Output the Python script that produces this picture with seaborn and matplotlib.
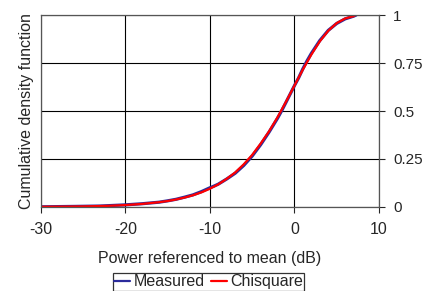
import numpy as np
import pandas as pd
import matplotlib
matplotlib.use("Agg")
import matplotlib.pyplot as plt
from matplotlib.lines import Line2D
import seaborn as sns

# values
chi_x = [-30, -27, -25, -22, -20, -18, -16, -15, -14, -13, -12, -11, -10, -9, -8, -7, -6,
         -5, -4, -3, -2, -1, 0, 1, 2, 3, 4, 5, 6, 7, 7.2]
chi_y = [0.001, 0.002, 0.003, 0.006, 0.01, 0.016, 0.025, 0.031, 0.039, 0.049, 0.061, 0.076,
         0.095, 0.118, 0.147, 0.18, 0.222, 0.271, 0.33, 0.394, 0.467, 0.548, 0.632, 0.716,
         0.794, 0.863, 0.918, 0.958, 0.982, 0.994, 1.0]

meas_x = [-30, -26, -23, -20, -18, -16, -15, -14, -13, -12, -11, -10, -9.5, -9, -8, -7, -6,
          -5, -4, -3, -2, -1.5, -1, 0, 0.5, 1, 1.5, 2, 3, 4, 5, 6, 7, 7.3]
meas_y = [0.001, 0.003, 0.005, 0.011, 0.017, 0.025, 0.032, 0.04, 0.051, 0.063, 0.08,
          0.1, 0.109, 0.119, 0.146, 0.176, 0.216, 0.265, 0.324, 0.39, 0.462, 0.502, 0.545,
          0.632, 0.673, 0.72, 0.762, 0.8, 0.867, 0.92, 0.956, 0.98, 0.994, 1.0]

df = pd.concat([
    pd.DataFrame({"x": meas_x, "y": meas_y, "series": "Measured"}),
    pd.DataFrame({"x": chi_x, "y": chi_y, "series": "Chisquare"}),
])

sns.set_style("white")
plt.rcParams["font.family"] = ["Liberation Sans", "DejaVu Sans"]
plt.rcParams["axes.unicode_minus"] = False

fig = plt.figure(figsize=(4.23, 2.91), dpi=100)
ax = fig.add_axes([0.0962, 0.2887, 0.7998, 0.6597])

sns.lineplot(data=df, x="x", y="y", hue="series", sort=False,
             palette={"Measured": "#2b2b9c", "Chisquare": "#ff0000"},
             linewidth=1.6, ax=ax, legend=False)
ax.lines[0].set_linewidth(2.3)

ax.set_xlim(-30, 10)
ax.set_ylim(0, 1)
ax.set_xticks([-30, -20, -10, 0, 10])
ax.set_yticks([0, 0.25, 0.5, 0.75, 1])
ax.set_yticklabels(["0", "0.25", "0.5", "0.75", "1"])
ax.yaxis.tick_right()
ax.grid(True, color="black", linewidth=0.8)
for s in ax.spines.values():
    s.set_color("#555555")
    s.set_linewidth(0.9)
ax.tick_params(axis="x", direction="out", length=4, width=0.8, labelsize=11.5, pad=7, bottom=True)
ax.tick_params(axis="y", direction="out", length=4, width=0.8, labelsize=11, pad=6,
               right=True, left=False)

ax.set_xlabel("Power referenced to mean (dB)", fontsize=11.5, labelpad=10)
ax.set_ylabel("Cumulative density function", fontsize=11.5, labelpad=5)
ax.yaxis.set_label_position("left")

handles = [Line2D([], [], color="#2b2b9c", lw=1.6), Line2D([], [], color="#ff0000", lw=1.6)]
leg = fig.legend(handles, ["Measured", "Chisquare"], loc="lower center",
                 bbox_to_anchor=(0.493, 0.0), ncol=2, fontsize=11.5, frameon=True,
                 fancybox=False, handlelength=1.0, handletextpad=0.2, columnspacing=0.4,
                 borderpad=0.1, borderaxespad=0.0)
leg.get_frame().set_edgecolor("black")
leg.get_frame().set_linewidth(0.9)

fig.savefig("out.png", dpi=100)
